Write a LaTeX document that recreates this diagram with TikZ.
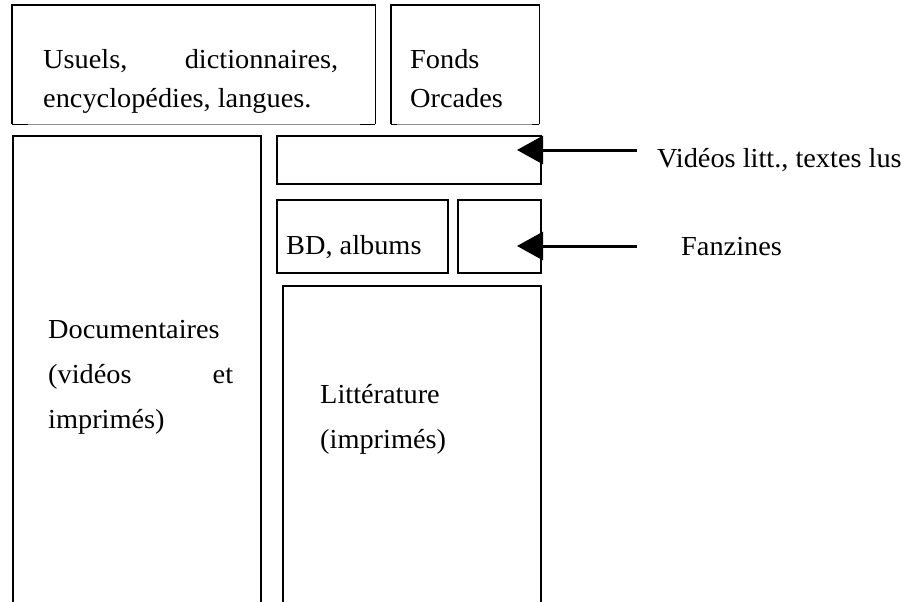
\documentclass[tikz,border=0pt]{standalone}
\usepackage{fontspec}
\setmainfont[FakeStretch=1.03]{Liberation Serif}
\usetikzlibrary{arrows.meta}
\begin{document}
\begin{tikzpicture}[x=1pt,y=-1pt,
  box/.style={draw, line width=1.6pt, anchor=north west, inner sep=0pt},
  openbox/.style={draw=none, anchor=north west, inner sep=0pt},
  edge/.style={line width=1.6pt},
  thinedge/.style={line width=0.8pt, black!45},
  lbl/.style={anchor=base west, inner sep=0pt, font=\fontsize{27.5}{38}\selectfont},
  arr/.style={line width=3pt, -{Triangle[length=26pt,width=28pt]}}]
\useasboundingbox (0,0) rectangle (913,602);
% top boxes with light bottom edge
\node[openbox, minimum width=363pt, minimum height=119pt] (usu) at (12,5) {};
\node[openbox, minimum width=148pt, minimum height=119pt] (fonds) at (391,5) {};
\draw[thinedge] (usu.south west) -- (usu.south east);
\draw[edge] (usu.south west) |- (usu.north east) -- (usu.south east);
\draw[edge] (usu.south west) -- ++(16,0);
\draw[edge] (usu.south east) -- ++(-15,0);
\draw[thinedge] (fonds.south west) -- (fonds.south east);
\draw[edge] (fonds.south west) |- (fonds.north east) -- (fonds.south east);
\draw[edge] (fonds.south west) -- ++(6,0);
\draw[edge] (fonds.south east) -- ++(-7,0);
\begin{scope}
\clip (0,0) rectangle (913,602);
\node[box, minimum width=248pt, minimum height=480pt] (doc) at (12,135) {};
\node[box, minimum width=264pt, minimum height=48pt] (vid) at (276,135) {};
\node[box, minimum width=171pt, minimum height=73pt] (bd) at (276,199) {};
\node[box, minimum width=83pt, minimum height=73pt] (fan) at (457,199) {};
\node[box, minimum width=258pt, minimum height=330pt] (lit) at (282,285) {};
\end{scope}
% texts
\node[lbl] (tusu1) at (43,69) {\makebox[295pt][s]{Usuels, dictionnaires,}};
\node[lbl] (tusu2) at (43,107) {encyclopédies, langues.};
\node[lbl] (tfonds1) at (410,69) {Fonds};
\node[lbl] (tfonds2) at (410,107) {Orcades};
\node[lbl] (tdoc1) at (48,338) {Documentaires};
\node[lbl] (tdoc2) at (48,383) {\makebox[185pt][s]{(vidéos et}};
\node[lbl] (tdoc3) at (48,428) {imprimés)};
\node[lbl] (tlit1) at (320,403) {Littérature};
\node[lbl] (tlit2) at (320,448) {(imprimés)};
\node[lbl] (tbd) at (286,254) {BD, albums};
\node[lbl] (lvid) at (657,167) {Vidéos litt., textes lus};
\node[lbl] (lfan) at (681,255) {Fanzines};
% arrows
\coordinate (s1) at (637,150);
\coordinate (e1) at (517,150);
\coordinate (s2) at (637,246);
\coordinate (e2) at (517,246);
\draw[arr] (s1) -- (e1);
\draw[arr] (s2) -- (e2);
\end{tikzpicture}
\end{document}
